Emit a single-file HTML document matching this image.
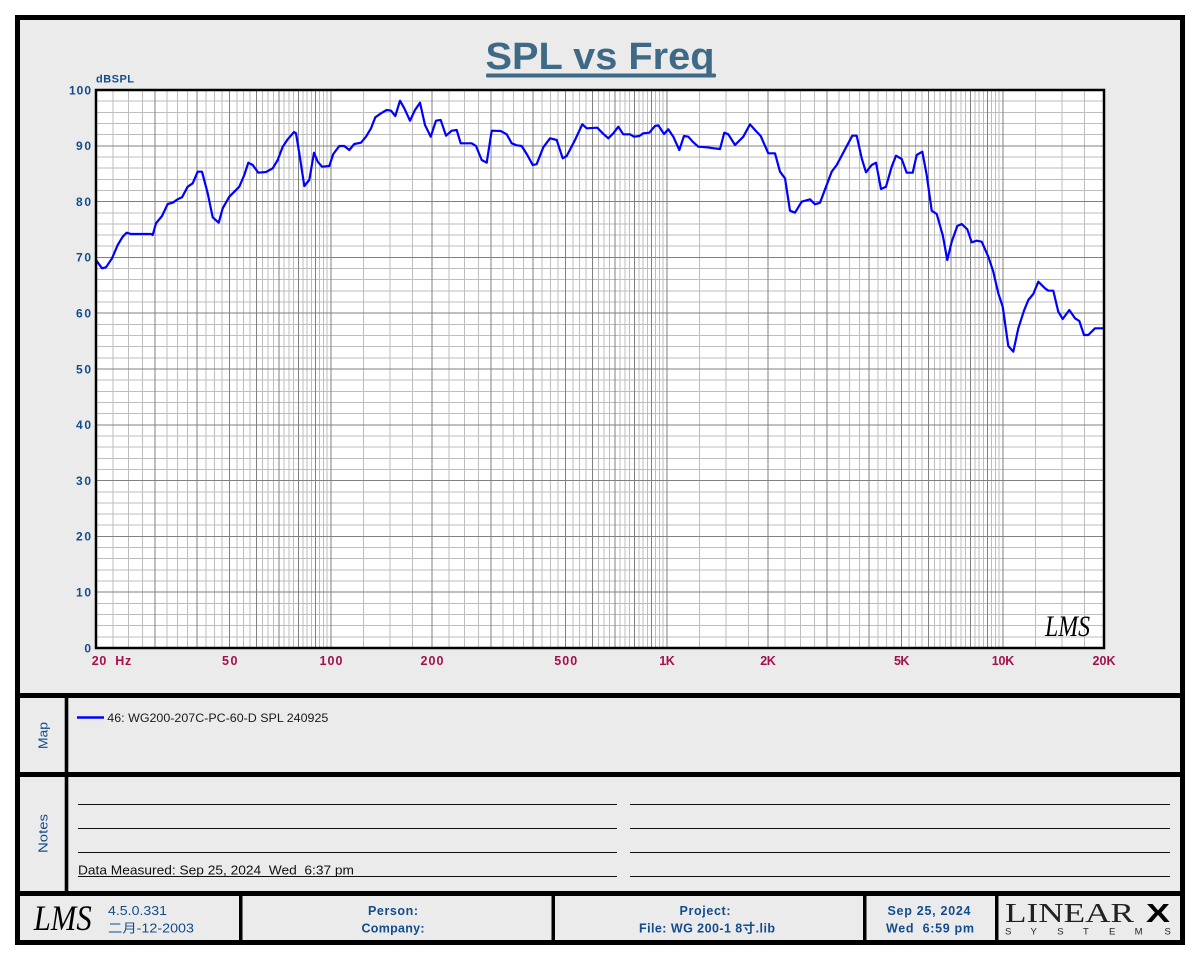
<!DOCTYPE html>
<html>
<head>
<meta charset="utf-8">
<style>
html,body{margin:0;padding:0;background:#ffffff;}
svg{display:block;}
text{font-family:"Liberation Sans","Noto Sans CJK SC",sans-serif;}
text.serif{font-family:"Liberation Serif",serif;}
text.serifi{font-family:"Liberation Serif",serif;font-style:italic;}
</style>
</head>
<body>
<svg width="1200" height="960" viewBox="0 0 1200 960" xmlns="http://www.w3.org/2000/svg">
<defs>
  <clipPath id="plotclip"><rect x="96" y="90" width="1008" height="558"/></clipPath>
  <g id="decMinor">
    <path d="M32.56 90V648M59.17 90V648M81.66 90V648M118.33 90V648M133.71 90V648M147.61 90V648M171.99 90V648M182.81 90V648M192.87 90V648M211.14 90V648M219.48 90V648M227.37 90V648M241.97 90V648M248.76 90V648M255.25 90V648M267.42 90V648M273.14 90V648M278.64 90V648M289.07 90V648M294.02 90V648M298.8 90V648M307.93 90V648M312.29 90V648M316.52 90V648M324.62 90V648M328.51 90V648M332.3 90V648" stroke="#bdbdbd" stroke-width="1" fill="none" shape-rendering="crispEdges"/>
  </g>
  <g id="decMajor">
    <path d="M0 90V648M101.15 90V648M160.31 90V648M202.29 90V648M234.85 90V648M261.46 90V648M283.95 90V648M303.44 90V648M320.63 90V648" stroke="#808080" stroke-width="1" fill="none" shape-rendering="crispEdges"/>
  </g>
</defs>

<!-- frame background -->
<rect x="17.5" y="17.5" width="1165" height="925" fill="#ebebeb"/>

<!-- title -->
<text x="600" y="69" text-anchor="middle" font-size="38" font-weight="bold" fill="#3e6a86" textLength="229" lengthAdjust="spacingAndGlyphs">SPL vs Freq</text>
<rect x="486" y="73.5" width="230" height="4" rx="1.5" fill="#3e6a86"/>

<!-- plot area -->
<rect x="96" y="90" width="1008" height="558" fill="#ffffff"/>
<g clip-path="url(#plotclip)">
  <use href="#decMinor" x="-5.14"/>
  <use href="#decMinor" x="330.86"/>
  <use href="#decMinor" x="666.86"/>
  <use href="#decMinor" x="1002.86"/>
  <path d="M96 636.84H1104M96 625.68H1104M96 614.52H1104M96 603.36H1104M96 581.04H1104M96 569.88H1104M96 558.72H1104M96 547.56H1104M96 525.24H1104M96 514.08H1104M96 502.92H1104M96 491.76H1104M96 469.44H1104M96 458.28H1104M96 447.12H1104M96 435.96H1104M96 413.64H1104M96 402.48H1104M96 391.32H1104M96 380.16H1104M96 357.84H1104M96 346.68H1104M96 335.52H1104M96 324.36H1104M96 302.04H1104M96 290.88H1104M96 279.72H1104M96 268.56H1104M96 246.24H1104M96 235.08H1104M96 223.92H1104M96 212.76H1104M96 190.44H1104M96 179.28H1104M96 168.12H1104M96 156.96H1104M96 134.64H1104M96 123.48H1104M96 112.32H1104M96 101.16H1104" stroke="#bdbdbd" stroke-width="1" fill="none" shape-rendering="crispEdges"/>
  <use href="#decMajor" x="-5.14"/>
  <use href="#decMajor" x="330.86"/>
  <use href="#decMajor" x="666.86"/>
  <use href="#decMajor" x="1002.86"/>
  <path d="M96 592.2H1104M96 536.4H1104M96 480.6H1104M96 424.8H1104M96 369H1104M96 313.2H1104M96 257.4H1104M96 201.6H1104M96 145.8H1104" stroke="#808080" stroke-width="1" fill="none" shape-rendering="crispEdges"/>

  <!-- LMS watermark -->
  <text class="serifi" x="1045" y="636" font-size="30" fill="#000" textLength="45" lengthAdjust="spacingAndGlyphs">LMS</text>

  <!-- curve -->
  <polyline fill="none" stroke="#0000ff" stroke-width="2.2" stroke-linejoin="round" stroke-linecap="round"
  points="96,260 102,268.3 106,267.3 112,258.3 117.7,245 122.7,236.7 126.7,232.7 131,234 151,234 152.7,235 156,223.3 162,216 167.7,204 172.7,202.7 177.7,199.3 182,197.3 187.7,186.7 192.7,183.3 197.7,171.7 202,171.7 207.7,193.3 212.7,217.3 218.7,222.7 222.7,208.3 229.3,196.7 234.3,191.7 239.3,186.7 244.3,175 248.3,162.7 252.7,165 258.3,172.7 266,172 272.7,168.3 277.7,160 282.7,146.7 287.7,139.3 294,132 296,133.3 299.3,153.3 304.3,186 309.3,180 314,152.7 317.7,161.7 322,166.7 329.3,166 333.3,154 339.3,146 344.3,146 349.3,150 354.3,144 361,142.7 366,136.7 371,128.3 375.3,117.3 381,113.3 386.7,110 391,110.7 395.3,116 400,100.7 404.3,108.3 410,120.7 415,110 420,102.7 425,125 430.7,136.7 436,120.7 440.7,120 446,135.7 451.7,130.7 456.7,130 460.7,143.3 471.7,143.3 476,146 481.7,160 486.7,162.7 491.7,130.7 500.7,131 506.7,134.3 511.7,143.3 516.7,145.3 521.7,146 527.3,155 532.7,165 536.7,164 543.3,147.3 550,138.3 556.7,140 562.7,158.3 566.7,156 575,140 582.3,124.3 586.7,128.3 597.3,127.7 602.7,133.3 608.3,138.3 613.3,133.3 618.3,126.7 623.3,134.3 630,134.3 634,136.7 639.3,136 643.3,133.3 649.3,132.7 655,126 658.3,125.3 664,134 668.3,129.3 673.3,136.7 679.3,150 684,136 688.3,136.7 692.7,141.7 698.3,146.7 706.7,147.3 714,148.3 720,149 724.3,132.7 728.3,134.3 735,145 743.3,136.7 750,124.3 755,130 760.7,136 768.3,153.3 775,153.3 780,171.7 785,178.3 790,210.7 795,212.7 801.7,201.7 810,199.3 815,204.3 820,202.7 831.7,171.7 836.7,165 852.3,135.7 856.7,135.7 861.7,158.3 866,172.3 871.7,165 876,162.7 881,189 886,186.7 891.7,166.7 896,155.7 901.7,159 906.7,172.7 912.7,172.7 916.7,155 922.3,151.7 926.7,175 931.7,210.7 936.7,214 942.7,235 947.3,260 951.7,241.7 957.3,226 961.7,224 967.3,229.3 971.7,242.3 976.7,240.7 981.7,241.7 988.3,256.7 993.3,271.7 998.3,293.3 1002.7,306.7 1008.3,346 1013.3,351.7 1018.3,328.3 1024,310.7 1028.3,300 1033.3,294 1038.3,281.7 1045,288.3 1048.3,290.7 1053.3,290.7 1058.3,311.7 1062.7,319 1069.3,310 1075,318.3 1079.3,321 1084,335 1088.3,335 1095,328.3 1104,328.3"/>
</g>
<rect x="96" y="90" width="1008" height="558" fill="none" stroke="#000" stroke-width="2.5"/>

<!-- y axis labels -->
<g font-size="12" font-weight="bold" fill="#124c8c" text-anchor="end" lengthAdjust="spacingAndGlyphs">
  <text x="96" y="82.5" text-anchor="start" font-size="11" textLength="38">dBSPL</text>
  <text x="91" y="94.3" textLength="22">100</text>
  <text x="91" y="150.1" textLength="15">90</text>
  <text x="91" y="205.9" textLength="15">80</text>
  <text x="91" y="261.7" textLength="15">70</text>
  <text x="91" y="317.5" textLength="15">60</text>
  <text x="91" y="373.3" textLength="15">50</text>
  <text x="91" y="429.1" textLength="15">40</text>
  <text x="91" y="484.9" textLength="15">30</text>
  <text x="91" y="540.7" textLength="15">20</text>
  <text x="91" y="596.5" textLength="15">10</text>
  <text x="91" y="652.3" textLength="7.5">0</text>
</g>

<!-- x axis labels -->
<g font-size="12.5" font-weight="bold" fill="#a3104c" text-anchor="middle" lengthAdjust="spacingAndGlyphs">
  <text x="91.7" y="665" text-anchor="start" textLength="39.5" xml:space="preserve">20  Hz</text>
  <text x="229.7" y="665" textLength="15.5">50</text>
  <text x="331" y="665" textLength="23">100</text>
  <text x="432" y="665" textLength="23">200</text>
  <text x="565.7" y="665" textLength="23">500</text>
  <text x="667" y="665" textLength="15.5">1K</text>
  <text x="768" y="665" textLength="15.5">2K</text>
  <text x="901.7" y="665" textLength="15.5">5K</text>
  <text x="1003" y="665" textLength="22.5">10K</text>
  <text x="1104" y="665" textLength="23">20K</text>
</g>

<!-- separators -->
<rect x="15" y="693" width="1170" height="5" fill="#000"/>
<rect x="15" y="772" width="1170" height="5" fill="#000"/>
<rect x="15" y="891" width="1170" height="5" fill="#000"/>
<rect x="64.7" y="697" width="3.6" height="195" fill="#000"/>

<!-- Map panel -->
<text transform="translate(47.5,735.5) rotate(-90)" text-anchor="middle" font-size="12.5" fill="#124c8c" textLength="27" lengthAdjust="spacingAndGlyphs">Map</text>
<line x1="77" y1="717.5" x2="104" y2="717.5" stroke="#0000ff" stroke-width="2.5"/>
<text x="107.3" y="722" font-size="12" fill="#1a1a1a" textLength="221" lengthAdjust="spacingAndGlyphs">46: WG200-207C-PC-60-D SPL 240925</text>

<!-- Notes panel -->
<text transform="translate(47.5,833.5) rotate(-90)" text-anchor="middle" font-size="12.5" fill="#124c8c" textLength="39" lengthAdjust="spacingAndGlyphs">Notes</text>
<path d="M78 804.5H617M78 828.5H617M78 852.5H617M78 876.5H617M630 804.5H1170M630 828.5H1170M630 852.5H1170M630 876.5H1170" stroke="#111" stroke-width="1" shape-rendering="crispEdges"/>
<text x="78" y="874.5" font-size="13" fill="#111" textLength="276" lengthAdjust="spacingAndGlyphs" xml:space="preserve">Data Measured: Sep 25, 2024  Wed  6:37 pm</text>

<!-- footer dividers -->
<rect x="239" y="894" width="3.5" height="48" fill="#000"/>
<rect x="551.5" y="894" width="3.5" height="48" fill="#000"/>
<rect x="863" y="894" width="3.5" height="48" fill="#000"/>
<rect x="995" y="894" width="3.5" height="48" fill="#000"/>

<!-- footer content -->
<text class="serifi" x="33.7" y="930" font-size="36" fill="#000" textLength="58" lengthAdjust="spacingAndGlyphs">LMS</text>
<text x="108" y="915" font-size="12.5" fill="#124c8c" textLength="59" lengthAdjust="spacingAndGlyphs">4.5.0.331</text>
<text x="108" y="932.5" font-size="12.5" fill="#124c8c" textLength="86" lengthAdjust="spacingAndGlyphs">二月-12-2003</text>

<g font-size="12.5" font-weight="bold" fill="#124c8c" text-anchor="middle" lengthAdjust="spacingAndGlyphs">
  <text x="393" y="915" textLength="50">Person:</text>
  <text x="393" y="932.5" textLength="63">Company:</text>
  <text x="705" y="915" textLength="51">Project:</text>
  <text x="707" y="932.5" textLength="136">File: WG 200-1 8寸.lib</text>
  <text x="929" y="915" textLength="83">Sep 25, 2024</text>
  <text x="930" y="932.5" textLength="88" xml:space="preserve">Wed  6:59 pm</text>
</g>

<!-- LINEARX logo -->
<text class="serif" x="1005" y="922" font-size="27.5" fill="#222" textLength="129" lengthAdjust="spacingAndGlyphs">LINEAR</text>
<text x="1146" y="922" font-size="26" font-weight="bold" fill="#000" textLength="24" lengthAdjust="spacingAndGlyphs">X</text>
<g font-size="9.5" fill="#222">
  <text x="1005" y="934.5">S</text>
  <text x="1030.5" y="934.5">Y</text>
  <text x="1057.3" y="934.5">S</text>
  <text x="1083" y="934.5">T</text>
  <text x="1109" y="934.5">E</text>
  <text x="1134.6" y="934.5">M</text>
  <text x="1164.5" y="934.5">S</text>
</g>

<!-- outer frame -->
<rect x="17.5" y="17.5" width="1165" height="925" fill="none" stroke="#000" stroke-width="5"/>
</svg>
</body>
</html>
